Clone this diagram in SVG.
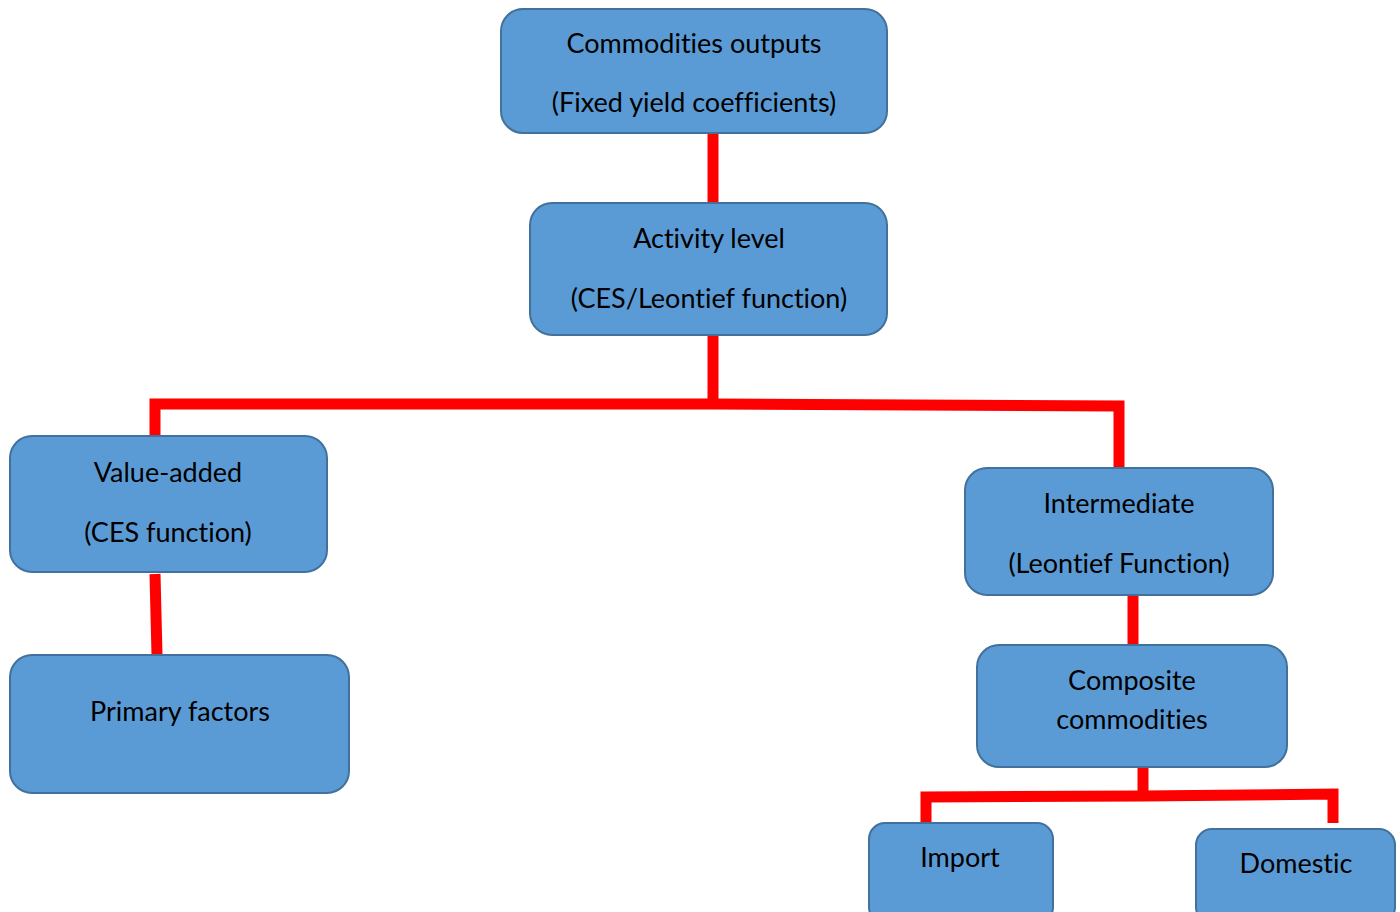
<svg xmlns="http://www.w3.org/2000/svg" width="1400" height="912" viewBox="0 0 1400 912">
  <style>
    .box { fill: #5B9BD5; stroke: #41719C; stroke-width: 2; }
    .lbl { font-family: Lato, "Liberation Sans", sans-serif; font-size: 27px; fill: #000; text-anchor: middle; font-variant-ligatures: none; font-feature-settings: "liga" 0, "clig" 0; }
    .wire { stroke: #FF0000; stroke-width: 11; fill: none; stroke-linecap: butt; }
  </style>
  <rect width="1400" height="912" fill="#FFFFFF"/>

  <g id="connectors">
    <line class="wire" x1="713" y1="133" x2="713" y2="203"/>
    <line class="wire" x1="713" y1="335" x2="713" y2="404"/>
    <polyline class="wire" points="155,437 155,404 713,404 1119,406 1119,468"/>
    <line class="wire" x1="155" y1="574" x2="157" y2="655"/>
    <line class="wire" x1="1133" y1="595" x2="1133" y2="656"/>
    <line class="wire" x1="1143" y1="768" x2="1143" y2="796"/>
    <polyline class="wire" points="926,823 926,797 1143,796 1333,794 1333,823"/>
  </g>

  <g id="commodities-outputs">
    <rect class="box" x="501" y="9" width="386" height="124" rx="22"/>
    <text class="lbl" x="694" y="53">Commodities outputs</text>
    <text class="lbl" x="694" y="112">(Fixed yield coefficients)</text>
  </g>

  <g id="activity-level">
    <rect class="box" x="530" y="203" width="357" height="132" rx="22"/>
    <text class="lbl" x="709" y="248">Activity level</text>
    <text class="lbl" x="709" y="308">(CES/Leontief function)</text>
  </g>

  <g id="value-added">
    <rect class="box" x="10" y="436" width="317" height="136" rx="22"/>
    <text class="lbl" x="168" y="482">Value-added</text>
    <text class="lbl" x="168" y="542">(CES function)</text>
  </g>

  <g id="primary-factors">
    <rect class="box" x="10" y="655" width="339" height="138" rx="22"/>
    <text class="lbl" x="180" y="721">Primary factors</text>
  </g>

  <g id="intermediate">
    <rect class="box" x="965" y="468" width="308" height="127" rx="22"/>
    <text class="lbl" x="1119" y="513">Intermediate</text>
    <text class="lbl" x="1119" y="573">(Leontief Function)</text>
  </g>

  <g id="composite-commodities">
    <rect class="box" x="977" y="645" width="310" height="122" rx="22"/>
    <text class="lbl" x="1132" y="690">Composite</text>
    <text class="lbl" x="1132" y="729">commodities</text>
  </g>

  <g id="import">
    <rect class="box" x="869" y="823" width="184" height="100" rx="16"/>
    <text class="lbl" x="960" y="867">Import</text>
  </g>

  <g id="domestic">
    <rect class="box" x="1196" y="829" width="199" height="94" rx="16"/>
    <text class="lbl" x="1296" y="873">Domestic</text>
  </g>
</svg>
